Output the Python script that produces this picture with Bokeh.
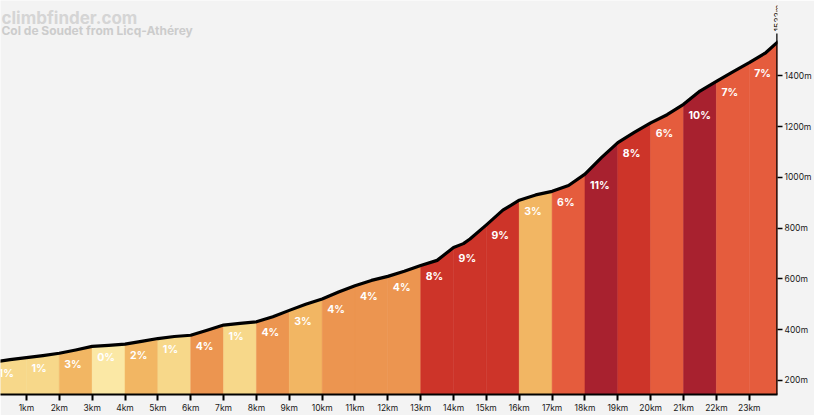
import math
from bokeh.plotting import figure
from bokeh.models import (ColumnDataSource, FixedTicker, PrintfTickFormatter,
                          Range1d, Label)
from bokeh.core.properties import value
from bokeh.embed import file_html
from bokeh.resources import INLINE

# ---------------- data ----------------
dist_km = [0, 0.5, 1, 1.5, 2, 2.5, 3, 3.5, 4, 4.5, 5, 5.5, 6, 6.5, 7, 7.5, 8,
           8.5, 9, 9.5, 10, 10.5, 11, 11.5, 12, 12.5, 13, 13.5, 14, 14.3, 14.5,
           15, 15.5, 16, 16.5, 17, 17.5, 18, 18.5, 19, 19.5, 20, 20.5, 21,
           21.5, 22, 22.5, 23, 23.5, 23.86]
elev_m = [272, 282, 290, 298, 307, 320, 334, 338, 343, 354, 365, 373, 378, 398,
          418, 425, 431, 451, 476, 500, 521, 548, 573, 594, 610, 630, 653, 673,
          724, 739, 757, 813, 871, 910, 931, 945, 968, 1013, 1078, 1137, 1177,
          1215, 1247, 1288, 1340, 1378, 1416, 1452, 1491, 1533]
seg_start_km = [0, 1, 2, 3, 4, 5, 6, 7, 8, 9, 10, 11, 12, 13, 14, 15, 16, 17,
                18, 19, 20, 21, 22, 23]
seg_end_km = [1, 2, 3, 4, 5, 6, 7, 8, 9, 10, 11, 12, 13, 14, 15, 16, 17, 18,
              19, 20, 21, 22, 23, 23.86]
seg_grade = [1, 1, 3, 0, 2, 1, 4, 1, 4, 3, 4, 4, 4, 8, 9, 9, 3, 6, 11, 8, 6,
             10, 7, 7]
x_tick_km = list(range(1, 24))
y_tick_m = [200, 400, 600, 800, 1000, 1200, 1400]
title_text = "climbfinder.com"
subtitle_text = "Col de Soudet from Licq-Athérey"
summit_text = "1533m"


def grade_color(g):
    if g <= 0:
        return "#fbe8a5"
    if g <= 1:
        return "#f7d88a"
    if g <= 3:
        return "#f2b663"
    if g <= 5:
        return "#ec9550"
    if g <= 7:
        return "#e55c3d"
    if g <= 9:
        return "#cd3429"
    return "#a8212f"


BG = "#f3f3f3"
p = figure(width=814, height=415, output_backend="svg", toolbar_location=None,
           x_range=Range1d(0.21, 23.86), y_range=Range1d(144.5, 1697),
           y_axis_location="right", background_fill_color=BG,
           border_fill_color=BG, outline_line_color=None,
           min_border_left=0, min_border_top=0, min_border_right=0,
           min_border_bottom=0)
p.grid.visible = False

# filled segments
xs, ys, cols = [], [], []
for s, e, g in zip(seg_start_km, seg_end_km, seg_grade):
    px = [d for d in dist_km if s <= d <= e]
    py = [h for d, h in zip(dist_km, elev_m) if s <= d <= e]
    xs.append([px[0]] + px + [px[-1]])
    ys.append([0] + py + [0])
    cols.append(grade_color(g))
p.patches(xs="xs", ys="ys", fill_color="cols", line_color="cols",
          line_width=0.5,
          source=ColumnDataSource(dict(xs=xs, ys=ys, cols=cols)))

# profile line
p.line(dist_km, elev_m, line_color="#000000", line_width=3.2,
       line_join="round", line_cap="round")

# right edge line and summit tick
end_km = dist_km[-1]
top_m = elev_m[-1]
p.segment(x0=[end_km], y0=[0], x1=[end_km], y1=[top_m + 34],
          line_color="#000000", line_width=2.5)
p.add_layout(Label(x=end_km, y=top_m + 42, text=summit_text,
                   angle=math.pi / 2, text_align="left",
                   text_baseline="middle", text_font="Inter",
                   text_font_size="8.5px", text_color="#111111"))

# gradient labels
elev_at = dict(zip(dist_km, elev_m))
lab_src = ColumnDataSource(dict(
    x=seg_start_km,
    y=[elev_at[s] for s in seg_start_km],
    t=[f"{g}%" for g in seg_grade]))
p.text(x="x", y="y", text="t", source=lab_src, x_offset=5, y_offset=11,
       text_align="left", text_baseline="middle", text_color="#ffffff",
       text_font=value("Inter"), text_font_style="bold",
       text_font_size="10.5px")

# title
p.add_layout(Label(x=0.24, y=1630, text=title_text, text_font="Inter",
                   text_font_style="bold", text_font_size="17px",
                   text_color="#d5d5d5", text_baseline="alphabetic"))
p.add_layout(Label(x=0.24, y=1580, text=subtitle_text, text_font="Inter",
                   text_font_style="bold", text_font_size="12px",
                   text_color="#cccccc", text_baseline="alphabetic"))

# axes
xa = p.xaxis[0]
xa.ticker = FixedTicker(ticks=x_tick_km)
xa.formatter = PrintfTickFormatter(format="%dkm")
xa.axis_line_width = 2
xa.axis_line_color = "#000000"
xa.major_tick_line_width = 2
xa.major_tick_line_color = "#000000"
xa.major_tick_in = 0
xa.major_tick_out = 6
xa.minor_tick_line_color = None
xa.major_label_standoff = 2
xa.major_label_text_font = "Inter"
xa.major_label_text_font_size = "8.5px"
xa.major_label_text_color = "#1a1a1a"

ya = p.yaxis[0]
ya.ticker = FixedTicker(ticks=y_tick_m)
ya.formatter = PrintfTickFormatter(format="%dm")
ya.axis_line_color = None
ya.major_tick_line_width = 1.5
ya.major_tick_line_color = "#000000"
ya.major_tick_in = 0
ya.major_tick_out = 5
ya.minor_tick_line_color = None
ya.major_label_standoff = 2
ya.major_label_text_font = "Inter"
ya.major_label_text_font_size = "8.5px"
ya.major_label_text_color = "#1a1a1a"

open("out.html", "w").write(file_html(p, INLINE))
